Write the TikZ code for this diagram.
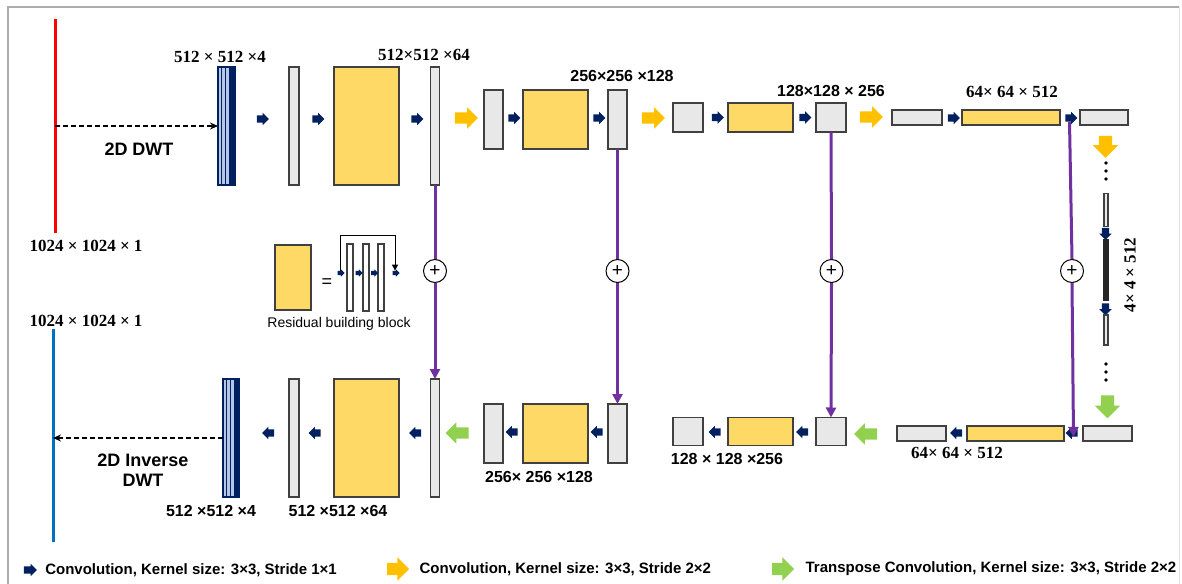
\documentclass[tikz,border=0pt]{standalone}
\usepackage{fontspec}
\setmainfont{Liberation Serif}
\setsansfont{Liberation Sans}
\usetikzlibrary{arrows.meta,positioning,shapes.arrows,calc}

\definecolor{convnavy}{HTML}{002060}
\definecolor{poolyellow}{HTML}{FFC000}
\definecolor{upgreen}{HTML}{92D050}
\definecolor{blkyellow}{HTML}{FFD966}
\definecolor{mapgray}{HTML}{E8E8E8}
\definecolor{skippurple}{HTML}{7030A0}
\definecolor{dwtblue}{HTML}{B4C7E7}
\definecolor{inred}{HTML}{FF0000}
\definecolor{outblue}{HTML}{0070C0}

\begin{document}
\begin{tikzpicture}[x=1pt, y=-1pt,
  fmap/.style={draw=black!75, line width=1.2pt, fill=mapgray, inner sep=0pt, outer sep=0pt},
  resblk/.style={fmap, fill=blkyellow},
  dwt/.style={fmap, draw=convnavy, fill=dwtblue},
  conv/.style={single arrow, fill=convnavy, inner xsep=0pt, inner ysep=3.5pt,
               minimum height=12pt, single arrow head extend=2.5pt},
  convsmall/.style={conv, inner ysep=2pt, minimum height=7pt, single arrow head extend=1.5pt},
  poolarr/.style={single arrow, fill=poolyellow, inner xsep=0pt, inner ysep=5.5pt,
                  minimum height=23pt, single arrow head extend=5pt},
  uparr/.style={poolarr, fill=upgreen},
  skipline/.style={draw=skippurple, line width=3pt},
  skiptip/.style={skipline, -{Triangle[length=10pt,width=10pt]}},
  addop/.style={circle, draw, line width=1pt, fill=white, minimum size=23pt, inner sep=0pt,
                font=\fontsize{19}{19}\selectfont\sffamily},
  dimserif/.style={font=\fontsize{17}{20}\selectfont\bfseries, inner sep=0pt},
  dimsans/.style={font=\fontsize{16}{19}\selectfont\sffamily\bfseries, inner sep=0pt},
  optag/.style={font=\fontsize{18}{20}\selectfont\sffamily\bfseries, align=center, inner sep=0pt},
  keytext/.style={font=\fontsize{15}{18}\selectfont\sffamily\bfseries, inner sep=0pt},
  dwtarrow/.style={-{Stealth[length=8pt,width=7pt]}, line width=1.3pt, dash pattern=on 5pt off 3pt},
  keyline/.style={line width=1pt, -{Triangle[length=6pt,width=6pt]}}
]
  \useasboundingbox (0,0) rectangle (1182,583);
  % frame
  \draw[gray!65, line width=1.5pt] (8,600) -- (8,7) -- (1179,7);
  \draw[gray!25, line width=1pt] (1179,7) -- (1179,600);

  % input / output images
  \draw[inred, line width=3pt] (55,19) -- (55,233);
  \draw[outblue, line width=3pt] (53,329) -- (53,542);
  \coordinate (inTap) at (55,126);
  \coordinate (outTap) at (53,438);
  \node[dimserif] (inlab) at (86,246) {1024 × 1024 × 1};
  \node[dimserif] (outlab) at (86,321) {1024 × 1024 × 1};

  % encoder
  \node[dwt, minimum width=17pt, minimum height=118pt] (dwtA) at (226.5,126) {};
  \node[conv] (e1) at (261,119) {};
  \node[fmap, minimum width=10pt, minimum height=118pt] (fa1) at (294,126) {};
  \node[conv] (e2) at (316.5,119) {};
  \node[resblk, minimum width=65pt, minimum height=118pt] (ra1) at (366.5,126) {};
  \node[conv] (e3) at (415.5,119) {};
  \node[fmap, minimum width=9pt, minimum height=118pt] (fa2) at (435,126) {};
  \node[poolarr] (s1) at (463.5,118) {};
  \node[fmap, minimum width=19pt, minimum height=59pt] (fb1) at (493.5,119.5) {};
  \node[conv] (e4) at (512.5,118) {};
  \node[resblk, minimum width=65pt, minimum height=59pt] (rb1) at (555.5,119.5) {};
  \node[conv] (e5) at (597.5,118) {};
  \node[fmap, minimum width=19pt, minimum height=59pt] (fb2) at (617.5,119.5) {};
  \node[poolarr] (s2) at (650.5,118) {};
  \node[fmap, minimum width=30pt, minimum height=29pt] (fc1) at (688,117.5) {};
  \node[conv] (e6) at (716,117.5) {};
  \node[resblk, minimum width=65pt, minimum height=29pt] (rc1) at (760.5,117.5) {};
  \node[conv] (e7) at (803.5,117.5) {};
  \node[fmap, minimum width=30pt, minimum height=29pt] (fc2) at (831,117.5) {};
  \node[poolarr] (s3) at (868.5,117) {};
  \node[fmap, minimum width=50pt, minimum height=15pt] (fd1) at (917,117.5) {};
  \node[conv] (e8) at (952,118) {};
  \node[resblk, minimum width=98pt, minimum height=15pt] (rd1) at (1011,117.5) {};
  \node[conv] (e9) at (1069.5,118) {};
  \node[fmap, minimum width=48pt, minimum height=15pt] (fd2) at (1104,117.5) {};

  \node[dimserif] (lab4a) at (220,57) {512 × 512 ×4};
  \node[dimserif] (lab64a) at (424,55) {512×512 ×64};
  \node[dimsans] (lab128a) at (622,76) {256×256 ×128};
  \node[dimsans] (lab256a) at (831,91) {128×128 × 256};
  \node[dimserif] (lab512a) at (1012,92) {64× 64 × 512};

  % wavelet stripes
  \foreach \f in {0.22,0.44} {
    \draw[convnavy, line width=1pt] ($(dwtA.north west)!\f!(dwtA.north east)$) -- ($(dwtA.south west)!\f!(dwtA.south east)$);
  }
  \fill[convnavy] ($(dwtA.north west)!0.66!(dwtA.north east)$) rectangle (dwtA.south east);
  \draw[dwtarrow] (inTap) -- (inTap -| dwtA.west);
  \node[optag] (tdwt) at (139,149) {2D DWT};

  % bottleneck
  \node[poolarr, rotate=-90, inner ysep=6.5pt, single arrow head extend=6pt, minimum height=22pt] (s4) at (1105.5,143.5) {};
  \foreach \y in {163,171,179} \fill (1106,\y) circle (1.8pt);
  \node[fmap, minimum width=4pt, minimum height=33pt] (fe1) at (1106,210) {};
  \node[conv, rotate=-90] (e10) at (1105.5,232) {};
  \node[fmap, fill=black!85, draw=black!85, minimum width=4pt, minimum height=60pt] (fe2) at (1106,270) {};
  \node[conv, rotate=-90] (e11) at (1105.5,307.5) {};
  \node[fmap, minimum width=4pt, minimum height=30pt] (fe3) at (1106,330) {};
  \foreach \y in {364,372,380} \fill (1106,\y) circle (1.8pt);
  \node[uparr, rotate=-90, inner ysep=6.5pt, single arrow head extend=6pt] (u4) at (1107.5,403.5) {};
  \node[dimserif, rotate=90] (lab512m) at (1130,275) {4× 4 × 512};

  % decoder
  \node[fmap, minimum width=49pt, minimum height=15pt] (gd2) at (1107.5,433.5) {};
  \node[conv, rotate=180] (d9) at (1073.5,433) {};
  \node[resblk, minimum width=97pt, minimum height=15pt] (qd1) at (1015.5,433.5) {};
  \node[conv, rotate=180] (d8) at (958,433) {};
  \node[fmap, minimum width=49pt, minimum height=15pt] (gd1) at (921.5,433.5) {};
  \node[uparr, rotate=180] (u3) at (868.5,434) {};
  \node[fmap, minimum width=30pt, minimum height=28pt] (gc2) at (831,431.5) {};
  \node[conv, rotate=180] (d7) at (804,432) {};
  \node[resblk, minimum width=65pt, minimum height=28pt] (qc1) at (760.5,431.5) {};
  \node[conv, rotate=180] (d6) at (716.5,432) {};
  \node[fmap, minimum width=30pt, minimum height=28pt] (gc1) at (688,431.5) {};
  \node[uparr, rotate=180] (u2) at (460,433) {};
  \node[fmap, minimum width=19pt, minimum height=59pt] (gb2) at (617.5,433.5) {};
  \node[conv, rotate=180] (d5) at (598.5,432) {};
  \node[resblk, minimum width=65pt, minimum height=59pt] (qb1) at (555.5,433.5) {};
  \node[conv, rotate=180] (d4) at (513.5,432) {};
  \node[fmap, minimum width=19pt, minimum height=59pt] (gb1) at (493.5,433.5) {};
  \node[fmap, minimum width=9pt, minimum height=118pt] (ga2) at (435,438) {};
  \node[conv, rotate=180] (d3) at (417,433) {};
  \node[resblk, minimum width=65pt, minimum height=118pt] (qa1) at (366.5,438) {};
  \node[conv, rotate=180] (d2) at (316.5,433) {};
  \node[fmap, minimum width=10pt, minimum height=118pt] (ga1) at (294,438) {};
  \node[conv, rotate=180] (d1) at (270,433) {};
  \node[dwt, minimum width=16pt, minimum height=118pt] (dwtB) at (231,438) {};

  \node[dimserif] (lab512b) at (957,453) {64× 64 × 512};
  \node[dimsans] (lab256b) at (727,459) {128 × 128 ×256};
  \node[dimsans] (lab128b) at (539,477) {256× 256 ×128};
  \node[dimsans] (lab64b) at (338,511) {512 ×512 ×64};
  \node[dimsans] (lab4b) at (211,511) {512 ×512 ×4};

  \foreach \f in {0.22,0.44} {
    \draw[convnavy, line width=1pt] ($(dwtB.north west)!\f!(dwtB.north east)$) -- ($(dwtB.south west)!\f!(dwtB.south east)$);
  }
  \fill[convnavy] ($(dwtB.north west)!0.66!(dwtB.north east)$) rectangle (dwtB.south east);
  \draw[dwtarrow] (dwtB.west) -- (outTap);
  \node[optag] (tidwt) at (143,470) {2D Inverse\\DWT};

  % skip connections
  \node[addop] (p1) at (435,271) {+};
  \node[addop] (p2) at (617.5,271) {+};
  \node[addop] (p3) at (831.5,271) {+};
  \node[addop] (p4) at (1072,271) {+};
  \draw[skipline] (fa2.south) -- (p1.north);
  \draw[skiptip] (p1.south) -- (ga2.north);
  \draw[skipline] (fb2.south) -- (p2.north);
  \draw[skiptip] (p2.south) -- (gb2.north);
  \draw[skipline] (fc2.south) -- (p3.north);
  \draw[skiptip] (p3.south) -- (gc2.north);
  \draw[skipline] (e9.south) -- (p4.north);
  \draw[skiptip] (p4.south) -- (d9.north);

  % residual building block key
  \node[resblk, minimum width=36pt, minimum height=65pt] (rkey) at (293,277.5) {};
  \node[font=\fontsize{18}{18}\selectfont\sffamily, inner sep=0pt] (eq) at (327,283) {=};
  \node[fmap, fill=white, minimum width=6pt, minimum height=67pt] (kb1) at (350,277.5) {};
  \node[fmap, fill=white, minimum width=6pt, minimum height=67pt] (kb2) at (366,277.5) {};
  \node[fmap, fill=white, minimum width=6pt, minimum height=67pt] (kb3) at (381,277.5) {};
  \node[convsmall] (k1) at (340,273) {};
  \node[convsmall] (k2) at (358,273) {};
  \node[convsmall] (k3) at (373.5,273) {};
  \node[convsmall] (k4) at (395,273) {};
  \draw[keyline] (k1.north) |- ($(k4.north)+(0,-35)$) -- (k4.north);
  \node[font=\fontsize{14}{17}\selectfont\sffamily, inner sep=0pt] (rlab) at (339,324) {Residual building block};

  % legend
  \node[conv, minimum height=13pt] (kconv) at (28.5,570) {};
  \node[keytext, right=8pt of kconv] (tconv) {Convolution, Kernel size: 3×3, Stride 1×1};
  \node[poolarr, inner ysep=6pt, single arrow head extend=5.5pt, minimum height=22pt] (kpool) at (395,569) {};
  \node[keytext, right=10pt of kpool] (tpool) {Convolution, Kernel size: 3×3, Stride 2×2};
  \node[uparr, inner ysep=6pt, single arrow head extend=5.5pt, minimum height=22pt] (kup) at (780,569) {};
  \node[keytext, right=11pt of kup] (tup) {Transpose Convolution, Kernel size: 3×3, Stride 2×2};
\end{tikzpicture}
\end{document}
